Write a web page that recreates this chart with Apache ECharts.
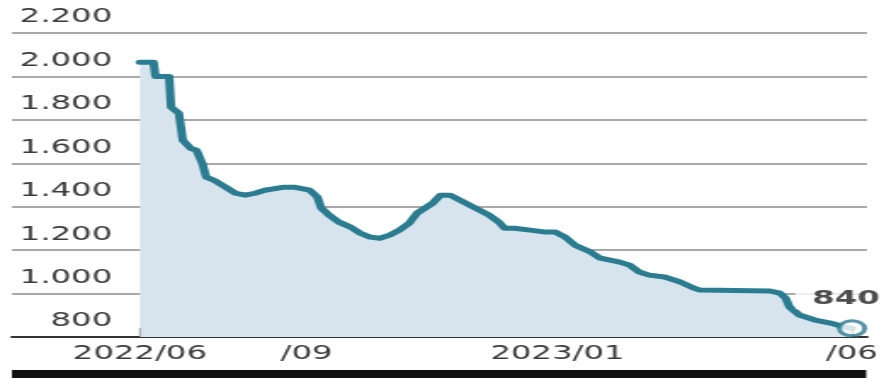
<!DOCTYPE html>
<html>
<head>
<meta charset="utf-8">
<script src="https://cdn.jsdelivr.net/npm/echarts@6/dist/echarts.min.js"></script>
<style>
  html, body { margin: 0; padding: 0; background: #fff; overflow: hidden; }
  /* The chart is laid out narrow and widened horizontally, giving the wide lettering and oval end marker */
  #chart { width: 522px; height: 378px; transform: scaleX(1.7); transform-origin: 0 0; }
</style>
</head>
<body>
<div id="chart"></div>
<script>
// Price series (sampled dates and closing values)
const dates = [
  '2022-06-01', '2022-06-08', '2022-06-09', '2022-06-16', '2022-06-17', '2022-06-21',
  '2022-06-23', '2022-06-27', '2022-06-30', '2022-07-03', '2022-07-05', '2022-07-09',
  '2022-07-15', '2022-07-20', '2022-07-25', '2022-07-30', '2022-08-04', '2022-08-14',
  '2022-08-19', '2022-08-27', '2022-08-31', '2022-09-02', '2022-09-06', '2022-09-11',
  '2022-09-17', '2022-09-22', '2022-09-27', '2022-10-02', '2022-10-07', '2022-10-12',
  '2022-10-17', '2022-10-21', '2022-10-25', '2022-10-29', '2022-11-02', '2022-11-07',
  '2022-11-12', '2022-11-17', '2022-11-22', '2022-11-27', '2022-12-02', '2022-12-05',
  '2022-12-10', '2022-12-18', '2022-12-26', '2022-12-31', '2023-01-05', '2023-01-10',
  '2023-01-18', '2023-01-23', '2023-02-02', '2023-02-07', '2023-02-12', '2023-02-17',
  '2023-02-25', '2023-03-05', '2023-03-12', '2023-03-15', '2023-04-20', '2023-04-25',
  '2023-04-28', '2023-04-30', '2023-05-05', '2023-05-13', '2023-05-21', '2023-05-28',
  '2023-06-01'
];
const values = [
  2065, 2065, 2000, 2000, 1858, 1830,
  1706, 1669, 1660, 1600, 1536, 1522,
  1490, 1462, 1453, 1462, 1476, 1490,
  1490, 1476, 1444, 1393, 1361, 1329,
  1306, 1278, 1260, 1255, 1269, 1292,
  1324, 1370, 1393, 1416, 1453, 1453,
  1430, 1407, 1384, 1361, 1329, 1301,
  1301, 1292, 1283, 1283, 1260, 1223,
  1191, 1163, 1145, 1131, 1099, 1085,
  1076, 1053, 1025, 1016, 1012, 1002,
  979, 938, 901, 878, 864, 846,
  840
];

// Bottom axis ticks and their labels
const tickDates = ['2022-06-01', '2022-09-01', '2023-01-01', '2023-06-01'];
const tickLabels = ['2022/06', '/09', '2023/01', '/06'];

// Value axis
const yMin = 800, yMax = 2200, yStep = 200;

const DAY = 86400000;
const toTime = (s) => {
  const [y, m, d] = s.split('-').map(Number);
  return Date.UTC(y, m - 1, d);
};
const tickTimes = tickDates.map(toTime);
const firstT = toTime(dates[0]);
const lastT = toTime(dates[dates.length - 1]);
// the axis runs out past the data on both sides so grid lines span the full width
const xMin = firstT - 65.6 * DAY;
const xMax = lastT + 7.7 * DAY;

const seriesData = dates.map((d, i) => [toTime(d), values[i]]);
const lastPoint = seriesData[seriesData.length - 1];

const LINE = '#2b7c90';
const TEXT = '#3a3a3a';
const FONT = 'DejaVu Sans';

const fmtThousands = (v) => {
  if (v < 1000) return String(v);
  const k = Math.floor(v / 1000);
  const r = String(v % 1000).padStart(3, '0');
  return k + '.' + r;
};

const chart = echarts.init(document.getElementById('chart'), null, { renderer: 'canvas' });
chart.setOption({
  animation: false,
  backgroundColor: '#fff',
  grid: { left: 7, right: 12, top: 33, bottom: 41 },
  xAxis: {
    type: 'value',
    min: xMin,
    max: xMax,
    axisLine: { show: true, lineStyle: { color: '#333', width: 2 } },
    axisTick: {
      show: true,
      inside: true,
      length: 9,
      customValues: tickTimes,
      lineStyle: { color: '#333', width: 1.2 }
    },
    axisLabel: {
      customValues: tickTimes,
      margin: 8,
      color: TEXT,
      fontFamily: FONT,
      fontSize: 19,
      formatter: (val) => {
        const i = tickTimes.indexOf(val);
        const t = i >= 0 ? tickLabels[i] : '';
        return i === 1 ? '{s|' + t + '}' : t;
      },
      rich: {
        s: { fontFamily: FONT, fontSize: 19, color: TEXT, padding: [0, 15, 0, 0] }
      }
    },
    splitLine: { show: false }
  },
  yAxis: {
    type: 'value',
    min: yMin,
    max: yMax,
    interval: yStep,
    axisLine: { show: false },
    axisTick: { show: false },
    splitLine: { show: true, lineStyle: { color: '#8c8c8c', width: 1.5 } },
    axisLabel: {
      inside: true,
      margin: 59,
      align: 'right',
      verticalAlign: 'bottom',
      lineHeight: 19,
      padding: [0, 0, 6, 0],
      color: TEXT,
      fontFamily: FONT,
      fontSize: 19,
      formatter: fmtThousands
    }
  },
  series: [
    {
      type: 'line',
      data: seriesData,
      showSymbol: false,
      lineStyle: { color: LINE, width: 5, join: 'round', cap: 'round' },
      areaStyle: { color: '#d7e4ee', origin: 'start', opacity: 1 },
      z: 3
    },
    {
      type: 'scatter',
      data: [lastPoint],
      symbol: 'circle',
      symbolSize: 15,
      itemStyle: { color: '#fff', borderColor: LINE, borderWidth: 3 },
      label: {
        show: true,
        position: 'top',
        distance: 10,
        offset: [-3.5, 0],
        formatter: (p) => String(p.value[1]),
        color: '#222',
        fontFamily: FONT,
        fontWeight: 'bold',
        fontSize: 19,
        backgroundColor: '#fff',
        padding: [1, 10, 1, 10]
      },
      z: 5
    }
  ],
  graphic: [
    {
      type: 'rect',
      left: 7,
      top: 370,
      shape: { width: 502.5, height: 8 },
      style: { fill: '#111' },
      silent: true
    }
  ]
});
</script>
</body>
</html>
